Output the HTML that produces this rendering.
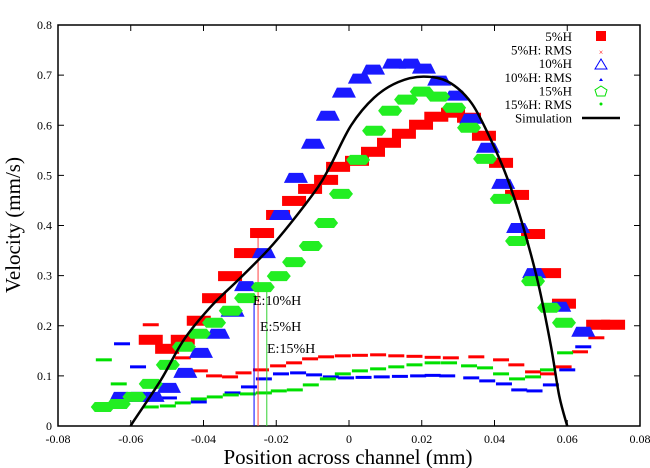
<!DOCTYPE html>
<html><head><meta charset="utf-8"><style>
html,body{margin:0;padding:0;background:#fff;}
svg{display:block;font-family:"Liberation Serif",serif;}
</style></head><body>
<svg id="chart" width="650" height="468" viewBox="0 0 650 468" xmlns="http://www.w3.org/2000/svg">
<g id="marks"></g>
</svg>
<script>
const xTicks=[-0.08,-0.06,-0.04,-0.02,0,0.02,0.04,0.06,0.08];
const xTickLabels=["-0.08","-0.06","-0.04","-0.02","0","0.02","0.04","0.06","0.08"];
const yTicks=[0,0.1,0.2,0.3,0.4,0.5,0.6,0.7,0.8];
const yTickLabels=["0","0.1","0.2","0.3","0.4","0.5","0.6","0.7","0.8"];
const red5X=[-0.0545,-0.050,-0.0457,-0.0413,-0.0371,-0.0327,-0.0283,-0.0239,-0.0195,-0.0151,-0.0107,-0.0063,-0.003,0.0022,0.0066,0.011,0.0151,0.0198,0.024,0.0286,0.033,0.0371,0.0418,0.0462,0.0506,0.055,0.0591,0.0685,0.0726];
const red5Y=[0.172,0.154,0.172,0.210,0.255,0.299,0.345,0.385,0.421,0.449,0.473,0.491,0.517,0.529,0.547,0.565,0.583,0.601,0.617,0.625,0.615,0.579,0.525,0.461,0.383,0.305,0.244,0.202,0.202];
const red5RmsX=[-0.0545,-0.0457,-0.041,-0.0371,-0.0327,-0.029,-0.0242,-0.0195,-0.0151,-0.0107,-0.0063,-0.0017,0.003,0.008,0.013,0.018,0.023,0.028,0.035,0.0418,0.046,0.0506,0.0547,0.059,0.0635,0.068];
const red5RmsY=[0.202,0.136,0.110,0.100,0.098,0.106,0.112,0.120,0.126,0.134,0.138,0.140,0.141,0.142,0.140,0.139,0.137,0.136,0.138,0.132,0.122,0.108,0.104,0.118,0.148,0.176];
const blue10X=[-0.0627,-0.058,-0.054,-0.0495,-0.045,-0.0407,-0.036,-0.032,-0.0283,-0.0234,-0.0187,-0.0146,-0.0099,-0.0058,-0.0014,0.003,0.0066,0.0124,0.017,0.0206,0.0248,0.0294,0.0336,0.0382,0.0424,0.0465,0.0509,0.0578,0.0644];
const blue10Y=[0.058,0.058,0.058,0.076,0.106,0.146,0.184,0.228,0.279,0.345,0.421,0.495,0.563,0.619,0.665,0.693,0.711,0.723,0.723,0.713,0.689,0.659,0.613,0.555,0.483,0.395,0.305,0.238,0.188];
const blue10RmsX=[-0.0624,-0.058,-0.0495,-0.0413,-0.032,-0.0275,-0.0234,-0.0187,-0.014,-0.0096,-0.005,-0.0008,0.004,0.009,0.014,0.019,0.023,0.027,0.0336,0.038,0.0426,0.0468,0.051,0.0555,0.06,0.0644];
const blue10RmsY=[0.164,0.118,0.056,0.048,0.066,0.078,0.094,0.104,0.106,0.102,0.098,0.096,0.097,0.098,0.099,0.100,0.101,0.100,0.096,0.090,0.084,0.072,0.070,0.082,0.112,0.158];
const green15X=[-0.0677,-0.0633,-0.059,-0.0545,-0.0498,-0.0454,-0.0413,-0.0371,-0.0325,-0.0283,-0.0237,-0.0193,-0.0151,-0.0105,-0.0063,-0.0022,0.0025,0.0069,0.0113,0.0157,0.020,0.0245,0.0289,0.033,0.0374,0.042,0.0462,0.0506,0.055,0.0591];
const green15Y=[0.038,0.044,0.058,0.084,0.122,0.158,0.184,0.206,0.230,0.255,0.277,0.299,0.327,0.359,0.405,0.463,0.531,0.589,0.629,0.651,0.667,0.657,0.635,0.595,0.533,0.453,0.369,0.289,0.236,0.206];
const green15RmsX=[-0.0674,-0.0633,-0.0545,-0.0498,-0.0457,-0.0413,-0.0369,-0.0325,-0.0278,-0.0234,-0.0193,-0.0149,-0.0105,-0.0058,-0.0017,0.003,0.008,0.013,0.018,0.023,0.0275,0.033,0.0374,0.0418,0.0462,0.0506,0.0547,0.0594];
const green15RmsY=[0.132,0.084,0.038,0.040,0.046,0.054,0.058,0.062,0.064,0.066,0.070,0.072,0.082,0.094,0.104,0.110,0.114,0.118,0.122,0.126,0.126,0.120,0.116,0.104,0.094,0.098,0.112,0.146];
const simX=[-0.06,-0.059,-0.0517,-0.0454,-0.038,-0.0305,-0.0223,-0.016,-0.0085,-0.005,0.0006,0.0069,0.0135,0.0204,0.0272,0.0336,0.039,0.0437,0.0479,0.052,0.0555,0.0578,0.06];
const simY=[0,0.012,0.092,0.172,0.238,0.291,0.351,0.405,0.477,0.521,0.600,0.655,0.686,0.697,0.687,0.645,0.571,0.491,0.397,0.285,0.16,0.06,0];
const errX=[-0.0261,-0.025,-0.0226];
const errTop=[0.265,0.377,0.27];
const errColors=["#0000ff","#ff4040","#30d030"];

const L=58,R=640,T=25,B=426;
const sx=v=>L+(v-(-0.08))/(0.16)*(R-L);
const sy=v=>B-(v/0.8)*(B-T);
const NS="http://www.w3.org/2000/svg";
const g=document.getElementById('marks');
function mk(tag,attrs,parent){const e=document.createElementNS(NS,tag);for(const k in attrs)e.setAttribute(k,attrs[k]);(parent||g).appendChild(e);return e;}

const frame=mk('rect',{x:L,y:T,width:R-L,height:B-T,fill:'none',stroke:'#000','stroke-width':1.5});


xTicks.forEach((v,i)=>{
  const x=sx(v);
  const t1=mk('line',{x1:x,y1:B,x2:x,y2:B-6,stroke:'#000'});
  
  
  const t2=mk('line',{x1:x,y1:T,x2:x,y2:T+6,stroke:'#000'});
  
  
  const lb=mk('text',{x:x,y:B+17,'text-anchor':'middle','font-size':12});
  lb.textContent=xTickLabels[i];
  
  
});
yTicks.forEach((v,i)=>{
  const y=sy(v);
  const t1=mk('line',{x1:L,y1:y,x2:L+6,y2:y,stroke:'#000'});
  
  
  const t2=mk('line',{x1:R,y1:y,x2:R-6,y2:y,stroke:'#000'});
  
  
  const lb=mk('text',{x:L-6,y:y+4,'text-anchor':'end','font-size':12});
  lb.textContent=yTickLabels[i];
  
  
});

function rms(xs,ys,color,name){
  xs.forEach((v,i)=>{
    const r=mk('rect',{x:sx(v)-8,y:sy(ys[i])-1.5,width:16,height:3,fill:color});
    
    
  });
}
rms(red5RmsX,red5RmsY,'#ff0000','rms-5pct-point');
rms(blue10RmsX,blue10RmsY,'#0000ff','rms-10pct-point');
rms(green15RmsX,green15RmsY,'#00e000','rms-15pct-point');

errX.forEach((v,i)=>{
  const l=mk('line',{x1:sx(v),y1:sy(errTop[i]),x2:sx(v),y2:B,stroke:errColors[i],'stroke-width':1});
  
  
});

red5X.forEach((v,i)=>{
  const x=sx(v),y=sy(red5Y[i]);
  const r=mk('rect',{x:x-12,y:y-5,width:24,height:10,fill:'#ff0000'});
  
  
});
blue10X.forEach((v,i)=>{
  const x=sx(v),y=sy(blue10Y[i]);
  const p=mk('polygon',{points:`${x-12},${y+5} ${x+12},${y+5} ${x+7},${y-5} ${x-7},${y-5}`,fill:'#1a1aff'});
  
  
});
green15X.forEach((v,i)=>{
  const x=sx(v),y=sy(green15Y[i]);
  const p=mk('polygon',{points:`${x-12},${y} ${x-8},${y-5} ${x+8},${y-5} ${x+12},${y} ${x+8},${y+5} ${x-8},${y+5}`,fill:'#22ee22'});
  
  
});

const pts=simX.map((v,i)=>[sx(v),sy(simY[i])]);
let d='M'+pts[0][0]+','+pts[0][1];
for(let i=0;i<pts.length-1;i++){
  const p0=pts[Math.max(0,i-1)],p1=pts[i],p2=pts[i+1],p3=pts[Math.min(pts.length-1,i+2)];
  const c1=[p1[0]+(p2[0]-p0[0])/6,p1[1]+(p2[1]-p0[1])/6];
  const c2=[p2[0]-(p3[0]-p1[0])/6,p2[1]-(p3[1]-p1[1])/6];
  d+=' C'+c1[0]+','+c1[1]+' '+c2[0]+','+c2[1]+' '+p2[0]+','+p2[1];
}
const sim=mk('path',{d:d,fill:'none',stroke:'#000','stroke-width':2.5,'stroke-linejoin':'round'});



[["E:10%H",253,305],["E:5%H",260,331],["E:15%H",267,353]].forEach(a=>{
  const t=mk('text',{x:a[1],y:a[2],'font-size':14});
  t.textContent=a[0];
  
  
});

const legLabels=["5%H","5%H: RMS","10%H","10%H: RMS","15%H","15%H: RMS","Simulation"];
legLabels.forEach((s,i)=>{
  const y=41+i*13.6;
  const t=mk('text',{x:572,y:y,'text-anchor':'end','font-size':13});
  t.textContent=s;
  
  
});
const lx=601;
let e;
e=mk('rect',{x:lx-5,y:31,width:10,height:10,fill:'#ff0000'});


e=mk('text',{x:lx,y:55,'text-anchor':'middle','font-size':8,fill:'#ff0000'});e.textContent='×';


e=mk('polygon',{points:`${lx-6},${69} ${lx+6},${69} ${lx},${59}`,fill:'none',stroke:'#0000ff'});


e=mk('polygon',{points:`${lx-2},${81} ${lx+2},${81} ${lx},${78}`,fill:'#0000ff'});


e=mk('polygon',{points:`${lx},${86} ${lx+6},${90} ${lx+4},${96} ${lx-4},${96} ${lx-6},${90}`,fill:'none',stroke:'#00e000'});


e=mk('circle',{cx:lx,cy:104,r:1.5,fill:'#00e000'});


e=mk('line',{x1:582,y1:118,x2:620,y2:118,stroke:'#000','stroke-width':2.5});



e=mk('text',{x:348,y:464,'text-anchor':'middle','font-size':21});
e.textContent='Position across channel (mm)';


e=mk('text',{x:0,y:0,'text-anchor':'middle','font-size':21,transform:'translate(20,225) rotate(-90)'});
e.textContent='Velocity (mm/s)';


</script>
</body></html>
